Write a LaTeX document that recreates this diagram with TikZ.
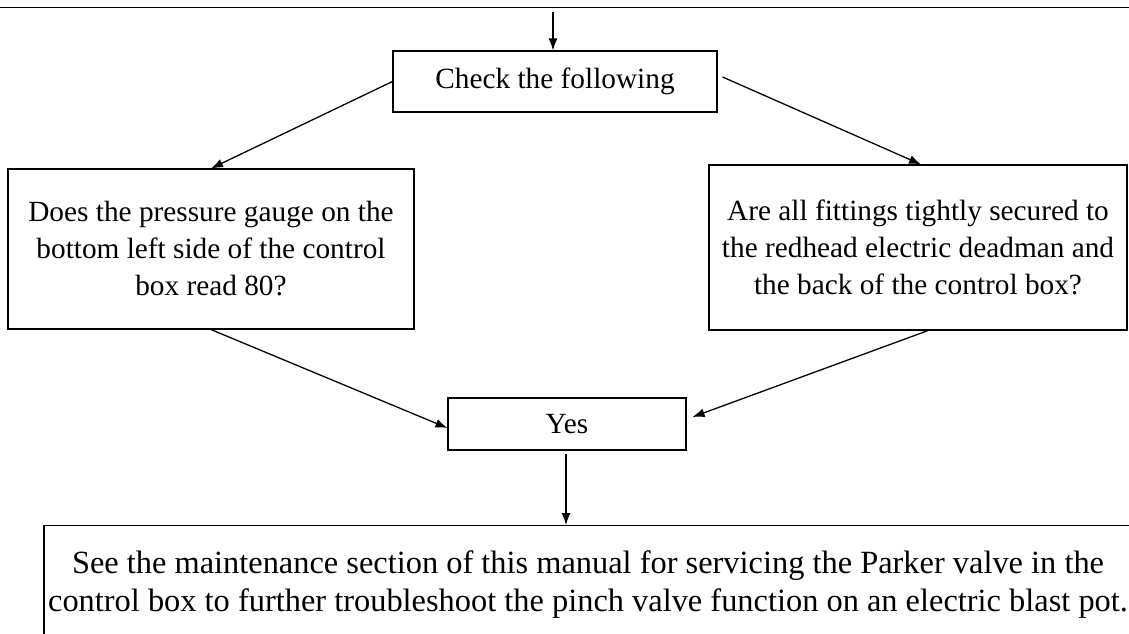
\documentclass[tikz,border=0pt]{standalone}
\usepackage{fontspec}
\setmainfont{Liberation Serif}
\usetikzlibrary{arrows.meta}
\begin{document}
\begin{tikzpicture}[x=1pt,y=-1pt,
  box/.style={draw, line width=1.1pt, align=center, inner sep=0pt,
    font=\fontsize{29.3}{37}\selectfont},
  conn/.style={line width=1.3pt, -{Latex[length=12pt,width=9pt]}}]
\useasboundingbox (0,0) rectangle (1129,633);
\draw[line width=1.3pt] (0,7.5) -- (1129,7.5);
\coordinate (top) at (553,12);
\node[box, minimum width=324pt, minimum height=61pt] (check) at (555,81.5) {Check the following};
\node[box, minimum width=406pt, minimum height=160pt] (left) at (211,249)
  {Does the pressure gauge on the\\bottom left side of the control\\box read 80?};
\node[box, minimum width=418pt, minimum height=165pt] (right) at (918,247.5)
  {Are all fittings tightly secured to\\the redhead electric deadman and\\the back of the control box?};
\node[box, minimum width=238pt, minimum height=52pt] (yes) at (567,424) {Yes};
\node[box, font=\fontsize{32.4}{38}\selectfont, minimum width=1088pt, minimum height=130pt, anchor=north, inner ysep=0pt] (final) at (588,525)
  {\\[10pt]See the maintenance section of this manual for servicing the Parker valve in the\\control box to further troubleshoot the pinch valve function on an electric blast pot.\\[40pt]};
\draw[conn] (top) -- (top |- check.north);
\draw[conn] (check.west) -- (left.north);
\draw[conn] ([xshift=5pt,yshift=4.5pt]check.east) -- ([xshift=3pt]right.north);
\draw[conn] (left.south) -- ([yshift=-4pt]yes.west);
\draw[conn] ([xshift=10pt]right.south) -- ([xshift=6pt,yshift=7pt]yes.east);
\draw[conn] ([yshift=-3pt]yes.south -| top) ++(13pt,0) coordinate (ys) -- (ys |- final.north);
\end{tikzpicture}
\end{document}
